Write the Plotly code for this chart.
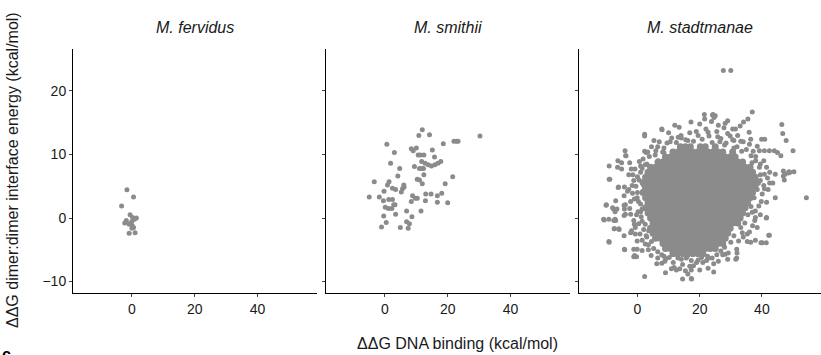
import plotly.graph_objects as go

# ---------------- data ----------------
species = ["M. fervidus", "M. smithii", "M. stadtmanae"]
x_ticks = [0, 20, 40]
y_ticks = [-10, 0, 10, 20]

fervidus_x = [-1.6, 0.5, -3.3, -0.6, 0.2, 1.4, -1.8, -2.3, -0.9, 0.1, 0.5, -0.9, 1.0, -0.1, 0.8, 0.0]
fervidus_y = [4.45, 3.3, 1.9, 0.5, 0.1, 0.0, -0.4, -0.8, -1.0, -1.2, -1.5, -2.4, -2.3, -0.6, -0.2, -1.6]

smithii_x = [11.9, 10.8, 14.2, 30.3, 22.0, 22.8, 23.3, 18.6, 0.6, 8.4, 9.0, 10.0, 15.1, 3.0,
             10.6, 11.3, 12.4, 15.8, 1.8, 11.7, 12.8, 13.8, 14.8, 15.9, 16.9, 17.8, 9.4, 11.0,
             11.8, 12.3, 4.7, 12.4, 4.1, 21.6, 10.3, 11.0, -3.4, 11.9, 1.3, 0.8, 19.2, 6.0, 6.1,
             3.4, 2.4, 5.6, 5.2, -0.3, 18.1, 16.7, 14.7, 13.0, -5.0, -1.8, -0.5, 1.2, 2.4, 8.8,
             9.7, 10.3, 8.4, 12.9, 16.7, 20.0, 2.8, 3.2, 0.1, 1.1, 2.2, 3.4, -0.4, 6.9, 11.5,
             8.6, 0.4, -1.1, 4.9, 6.9, 7.8, 7.4]
smithii_y = [13.9, 13.0, 13.1, 12.9, 12.1, 12.1, 12.1, 11.7, 11.6, 10.9, 10.6, 11.0, 10.7, 10.3,
             9.9, 9.9, 9.9, 9.6, 8.6, 8.9, 8.6, 8.4, 8.2, 8.4, 8.6, 8.9, 8.1, 7.8,
             7.8, 7.8, 7.8, 6.8, 6.6, 6.5, 6.1, 6.0, 5.7, 5.4, 5.7, 5.2, 5.4, 5.2, 4.9,
             4.5, 4.7, 4.6, 4.1, 4.2, 3.9, 3.5, 3.8, 3.8, 3.3, 3.3, 2.7, 2.9, 2.9, 3.5,
             3.1, 3.1, 2.6, 2.7, 2.5, 2.4, 2.1, 2.1, 1.7, 1.5, 1.5, 0.6, 0.3, 1.1, 1.1,
             0.2, -0.7, -1.4, -1.5, -0.6, -0.9, -1.6]

# M. stadtmanae: dense core read row by row (one y level per row) ...
stad_core_y = [11.2, 10.4, 9.6, 8.8, 8.0, 7.2, 6.4, 5.6, 4.8, 4.0, 3.2, 2.4, 1.6, 0.8,
               0.0, -0.8, -1.6, -2.4, -3.2, -4.0, -4.8, -5.6]
stad_core_x = [
    [13.8, 15.4, 17.0, 20.2, 21.8, 25.0],
    [11.4, 13.0, 14.6, 16.2, 17.8, 19.4, 21.0, 22.6, 24.2, 25.8, 27.4, 30.6],
    [9.0, 10.6, 12.2, 13.8, 15.4, 17.0, 18.6, 20.2, 21.8, 23.4, 25.0, 26.6, 28.2, 29.8, 31.4],
    [6.6, 8.2, 9.8, 11.4, 13.0, 14.6, 16.2, 17.8, 19.4, 21.0, 22.6, 24.2, 25.8, 27.4, 29.0,
     30.6, 32.2, 33.8],
    [4.2, 5.8, 7.4, 9.0, 10.6, 12.2, 13.8, 15.4, 17.0, 18.6, 20.2, 21.8, 23.4, 25.0, 26.6,
     28.2, 29.8, 31.4, 33.0, 34.6, 36.2],
    [3.4, 5.0, 6.6, 8.2, 9.8, 11.4, 13.0, 14.6, 16.2, 17.8, 19.4, 21.0, 22.6, 24.2, 25.8,
     27.4, 29.0, 30.6, 32.2, 33.8, 35.4, 37.0],
    [2.6, 4.2, 5.8, 7.4, 9.0, 10.6, 12.2, 13.8, 15.4, 17.0, 18.6, 20.2, 21.8, 23.4, 25.0,
     26.6, 28.2, 29.8, 31.4, 33.0, 34.6, 36.2, 37.8],
    [1.8, 3.4, 5.0, 6.6, 8.2, 9.8, 11.4, 13.0, 14.6, 16.2, 17.8, 19.4, 21.0, 22.6, 24.2,
     25.8, 27.4, 29.0, 30.6, 32.2, 33.8, 35.4, 37.0, 38.6],
    [2.6, 4.2, 5.8, 7.4, 9.0, 10.6, 12.2, 13.8, 15.4, 17.0, 18.6, 20.2, 21.8, 23.4,
     25.0, 26.6, 28.2, 29.8, 31.4, 33.0, 34.6, 36.2, 37.8],
    [1.8, 3.4, 5.0, 6.6, 8.2, 9.8, 11.4, 13.0, 14.6, 16.2, 17.8, 19.4, 21.0, 22.6, 24.2,
     25.8, 27.4, 29.0, 30.6, 32.2, 33.8, 35.4, 37.0],
    [2.6, 4.2, 5.8, 7.4, 9.0, 10.6, 12.2, 13.8, 15.4, 17.0, 18.6, 20.2, 21.8, 23.4, 25.0,
     26.6, 28.2, 29.8, 31.4, 33.0, 34.6, 36.2],
    [3.4, 5.0, 6.6, 8.2, 9.8, 11.4, 13.0, 14.6, 16.2, 17.8, 19.4, 21.0, 22.6, 24.2, 25.8,
     27.4, 29.0, 30.6, 32.2, 33.8, 35.4],
    [2.6, 4.2, 5.8, 7.4, 9.0, 10.6, 12.2, 13.8, 15.4, 17.0, 18.6, 20.2, 21.8, 23.4, 25.0,
     26.6, 28.2, 29.8, 31.4, 33.0, 34.6],
    [3.4, 5.0, 6.6, 8.2, 9.8, 11.4, 13.0, 14.6, 16.2, 17.8, 19.4, 21.0, 22.6, 24.2, 25.8,
     27.4, 29.0, 30.6, 32.2, 33.8],
    [4.2, 5.8, 7.4, 9.0, 10.6, 12.2, 13.8, 15.4, 17.0, 18.6, 20.2, 21.8, 23.4, 25.0, 26.6,
     28.2, 29.8, 31.4, 33.0],
    [5.0, 6.6, 8.2, 9.8, 11.4, 13.0, 14.6, 16.2, 17.8, 19.4, 21.0, 22.6, 24.2, 25.8,
     27.4, 29.0, 30.6, 32.2],
    [4.2, 5.8, 7.4, 9.0, 10.6, 12.2, 13.8, 15.4, 17.0, 18.6, 20.2, 21.8, 23.4, 25.0, 26.6,
     28.2, 29.8],
    [5.0, 6.6, 8.2, 9.8, 11.4, 13.0, 14.6, 16.2, 17.8, 19.4, 21.0, 22.6, 24.2, 25.8, 27.4,
     29.0],
    [5.8, 7.4, 9.0, 10.6, 12.2, 13.8, 15.4, 17.0, 18.6, 20.2, 21.8, 23.4, 25.0, 26.6, 28.2],
    [8.2, 9.8, 11.4, 13.0, 14.6, 16.2, 17.8, 19.4, 21.0, 22.6, 24.2, 25.8, 27.4],
    [9.0, 10.6, 12.2, 13.8, 15.4, 17.0, 18.6, 20.2, 21.8, 23.4, 25.0],
    [11.4, 13.0, 14.6, 16.2, 17.8, 19.4, 21.0],
]

# ... and the scattered points around it
stad_edge_x = [27.6, 30.0, 36.9, 21.5, 24.1, 24.6, 35.5, 46.4, 7.8, 13.4, 2.3, 5.3, 46.7, 47.8,
               39.9, 40.9, -4.0, -3.7, 2.3, 2.8, 50.0, 39.2, 40.8, 42.4, 44.0, 45.0, 46.1, -9.1,
               -6.4, -5.1, -2.0, -0.8, 48.7, 50.3, 46.9, -9.1, -6.1, -4.2, 44.3, 54.3, -10.0,
               -7.7, -6.6, -3.9, -4.2, -10.9, -9.2, -7.6, -7.0, -3.9, -7.4, -6.0, -1.9, -9.2,
               -4.2, 41.5, 42.2, 39.7, 41.4, -1.2, -0.3, 2.3, 9.0, 14.5, 17.4, 11.8, 31.9, 28.2,
               22.9, 6.2,
               2.3, 7.9, -3.8, 3.3, 5.9, 8.1, -6.3, -5.1, -2.5, 0.6, 1.8, 5.7, 6.7, 13.1, 14.1,
               18.9, 16.2,
               24.3, 25.0, 21.6, 29.0, 28.2, 34.1, 30.6, 48.5, 22.7, 25.8, 29.0, 32.2, 35.9,
               36.4, 33.2, 30.6,
               -8.9, -6.2, -4.3, -7.0, -1.6, -10.1, -8.0, -7.2, -4.3, -2.2, -10.7, -7.2, -4.3,
               -2.2, -1.2, -7.5, -5.9, -2.2, -4.3, -0.7, -0.1, -9.1, -4.1, -1.2, -0.1, 1.5,
               -0.9, 4.4, 6.5, 7.8, 9.1, 10.9, 13.6, 15.4, 16.2, 17.3, 17.3, 12.0, 14.1, 15.7,
               17.3, 3.6, 3.0, 2.5, -0.7, 0.4, 1.5, 1.0, -0.1, 2.0, -1.2, -1.7, 2.0,
               47.4, 49.0, 47.2, 41.4, 37.7, 37.9, 42.4, 40.1, 37.9, 35.3, 36.4, 34.0, 31.9,
               31.6, 29.0, 27.4, 22.7, 22.2, 20.6, 39.0, 37.9, 36.9, 40.6, 39.5, 40.1, 44.3,
               46.9, 35.3, 33.7,
               10.5, 26.5, 28.0, 31.0, 33.5, 8.5, 36.5, 38.0, 39.5, 41.5, 42.5, 43.5, 42.0,
               41.5, 39.5, 38.5, 32.0, 26.0, 24.5, 19.0, 8.5, 3.5, 2.5, 1.2, 0.0, 1.5, 3.0,
               -2.8, -3.2, 0.2,
               9.5, 11.0, 12.5, 14.0, 15.5, 16.8, 18.0, 19.5, 20.8, 22.0, 23.0, 24.0, 25.5,
               26.8, 27.8, 28.5, 29.8, 31.0, 32.0, 33.0, 34.0, 35.0, 36.0, 37.2, 38.5, 20.0,
               17.2, 23.8, 26.0, 31.5, 12.0, 10.0, 7.0, 8.5, 6.5, 4.5, 3.8, 2.5, 1.0, 38.0,
               36.8, 39.2, 40.6, 41.8, 40.8, 42.5,
               0.5, -0.5, 0.0, -1.0, 0.3, 1.0, -0.3, 1.5, 2.0, 0.8, 2.8, 1.5, 3.5, 4.5, 5.2,
               6.5, 7.8, -2.5, -1.0, -2.8, -1.5, 1.0,
               8.8, 10.2, 11.5, 13.0, 14.5, 16.0, 18.0, 19.5, 21.0, 22.5, 24.0, 25.5, 26.8,
               28.0, 29.2, 30.0, 31.0, 32.5, 33.2, 34.5, 35.5, 36.5, 37.5, 38.5, 39.5, 38.2,
               40.8, 39.8, 37.0, 36.0, 12.5, 20.0, 24.5, 16.8]
stad_edge_y = [23.2, 23.2, 16.7, 16.3, 16.2, 15.8, 15.6, 14.7, 14.0, 14.3, 12.9, 12.2, 13.3, 12.2,
               12.4, 12.4, 10.6, 9.8, 10.5, 10.3, 10.6, 10.6, 10.6, 10.6, 10.6, 10.3, 9.8, 8.2,
               8.0, 7.7, 7.7, 7.7, 7.3, 7.3, 6.6, 6.1, 4.9, 4.9, 3.2, 3.2, 2.1,
               1.4, 1.4, 2.1, 1.4, -0.2, -0.2, -0.4, -0.4, 0.6, -1.7, -1.7, -2.0, -3.7,
               -4.9, 0.1, -2.7, -3.9, -3.9, -6.1, -6.1, -9.2, -8.6, -9.6, -9.6, -7.8, -6.3, -5.7,
               -6.3, -7.2,
               13.2, 13.9, 9.8, 10.4, 10.6, 10.4, 9.0, 8.7, 8.7, 8.9, 9.3, 9.9, 9.0, 12.7, 12.6,
               13.6, 12.2,
               16.3, 16.1, 15.6, 15.3, 14.9, 15.1, 14.0, 7.1, 13.5, 12.8, 13.3, 13.0, 13.5,
               12.4, 12.1, 12.3,
               6.1, 4.8, 3.5, 2.7, 3.9, 2.0, 1.6, 1.0, 2.0, 2.6, -0.3, -0.2, 0.4,
               0.6, -0.4, -1.7, -1.8, -2.3, -2.8, -2.5, -3.6, -3.8, -5.0, -4.9, -4.9, -5.1,
               -5.9, -5.9, -6.3, -7.1, -6.4, -8.0, -8.0, -8.3, -8.8, -9.5, -8.2, -5.7, -6.5, -6.3,
               -6.7, -2.0, -3.0, -4.1, -1.5, -0.9, 1.4, 2.2, 3.2, 4.3, 5.9, 5.1, 5.1,
               6.9, 7.2, 6.0, 0.0, -0.4, 0.1, -2.7, -3.9, -3.5, -3.7, -3.8, -3.0, -4.9,
               -6.5, -6.5, -5.8, -7.9, -6.7, -6.2, 1.9, 1.1, 0.9, 5.1, 5.9, 3.8, 6.9,
               7.4, -2.5, -2.3,
               12.0, 12.0, 11.5, 11.0, 10.5, 11.0, 9.8, 9.0, 8.5, 8.0, 7.2, 5.5, 4.5,
               2.5, 0.5, -1.5, -5.5, -6.8, -7.2, -7.0, -6.0, -5.0, -1.0, 0.2, 6.5, 7.8, 8.5,
               6.8, 4.2, 1.0,
               11.8, 12.6, 11.9, 13.0, 12.3, 13.4, 12.1, 13.0, 12.4, 14.0, 12.9, 11.9, 13.6,
               12.5, 14.2, 11.8, 12.9, 12.2, 11.2, 14.5, 12.0, 10.8, 11.6, 10.5, 11.3, 14.8,
               15.1, 15.2, 14.6, 14.0, 14.6, 13.4, 12.0, 10.3, 11.2, 11.2, 9.7, 8.4, 7.2, 9.7,
               8.7, 8.0, 9.0, 6.3, 6.9, 5.5,
               6.0, 5.0, 4.0, 3.0, 2.6, 1.0, 0.5, -0.5, -1.8, -2.5, -2.8, -3.5, -4.2, -3.7, -4.8,
               -5.3, -5.8, 1.5, -1.0, 4.5, 6.8, 8.2,
               -6.8, -6.2, -7.0, -6.3, -7.3, -6.0, -7.5, -6.6, -7.0, -6.0, -6.3, -5.8, -5.2,
               -4.6, -5.5, -3.8, -2.8, -3.6, -1.5, -0.8, 0.5, 1.8, 3.2, 4.5, 6.8, 6.0,
               4.6, 2.6, -1.2, -2.2, -8.2, -8.2, -8.5, -7.6]

x_title = "ΔΔG DNA binding (kcal/mol)"
y_title = "ΔΔG dimer:dimer interface energy (kcal/mol)"

# ---------------- figure ----------------
POINT = "#8b8b8b"
FONT = "Liberation Sans, Arial, Helvetica, sans-serif"
TXT = "#1a1a1a"

core_x = [x for row in stad_core_x for x in row]
core_y = [y for y, row in zip(stad_core_y, stad_core_x) for _ in row]

fig = go.Figure()
fig.add_trace(go.Scatter(x=fervidus_x, y=fervidus_y, mode="markers",
                         marker=dict(size=5, color=POINT), xaxis="x", yaxis="y"))
fig.add_trace(go.Scatter(x=smithii_x, y=smithii_y, mode="markers",
                         marker=dict(size=5, color=POINT), xaxis="x2", yaxis="y2"))
fig.add_trace(go.Scatter(x=core_x, y=core_y, mode="markers",
                         marker=dict(size=7, color=POINT), xaxis="x3", yaxis="y3"))
fig.add_trace(go.Scatter(x=stad_edge_x, y=stad_edge_y, mode="markers",
                         marker=dict(size=5, color=POINT), xaxis="x3", yaxis="y3"))

L, R, T, B = 73, 0, 49, 62
W, H = 821, 355
pw = W - L - R
ph = H - T - B
panels_px = [(73, 317), (326, 570), (579, 821)]
domains = [[(a - L) / pw, (b - L) / pw] for a, b in panels_px]

TICK_SIZE = 14
common_x = dict(range=[-18.8, 59], tickvals=x_ticks, showline=True, linecolor="black",
                linewidth=1, ticks="outside", ticklen=3, tickcolor="#444", showgrid=False,
                zeroline=False, tickfont=dict(family=FONT, size=TICK_SIZE, color=TXT))
common_y = dict(range=[-11.8, 26.6], tickvals=y_ticks, showline=True, linecolor="black",
                linewidth=1, ticks="outside", ticklen=3, tickcolor="#444", showgrid=False,
                zeroline=False, tickfont=dict(family=FONT, size=TICK_SIZE, color=TXT))

layout = dict(
    width=W, height=H, margin=dict(l=L, r=R, t=T, b=B),
    paper_bgcolor="white", plot_bgcolor="white", showlegend=False,
    font=dict(family=FONT, size=13, color=TXT),
)
for i in range(3):
    sx = "" if i == 0 else str(i + 1)
    layout["xaxis" + sx] = dict(common_x, domain=domains[i], anchor="y" + sx)
    layout["yaxis" + sx] = dict(common_y, domain=[0, 1], anchor="x" + sx,
                                showticklabels=(i == 0))
fig.update_layout(**layout)

annotations = []
for i, name in enumerate(species):
    cx = (domains[i][0] + domains[i][1]) / 2
    annotations.append(dict(text="<i>" + name + "</i>", x=cx, y=(H - B - 28) / ph,
                            xref="paper", yref="paper", showarrow=False,
                            xanchor="center", yanchor="middle",
                            font=dict(family=FONT, size=16, color=TXT)))
annotations.append(dict(text=x_title, x=(458 - L) / pw, y=(H - B - 343) / ph,
                        xref="paper", yref="paper", showarrow=False,
                        xanchor="center", yanchor="middle",
                        font=dict(family=FONT, size=16, color=TXT)))
annotations.append(dict(text=y_title, x=(12 - L) / pw, y=(H - B - 170) / ph,
                        xref="paper", yref="paper", showarrow=False, textangle=-90,
                        xanchor="center", yanchor="middle",
                        font=dict(family=FONT, size=16, color=TXT)))
annotations.append(dict(text="<b>c</b>", x=(0 - L) / pw, y=(H - B - 344) / ph,
                        xref="paper", yref="paper", showarrow=False,
                        xanchor="left", yanchor="top",
                        font=dict(family=FONT, size=16, color="black")))
fig.update_layout(annotations=annotations)

fig.write_html("out.html")
